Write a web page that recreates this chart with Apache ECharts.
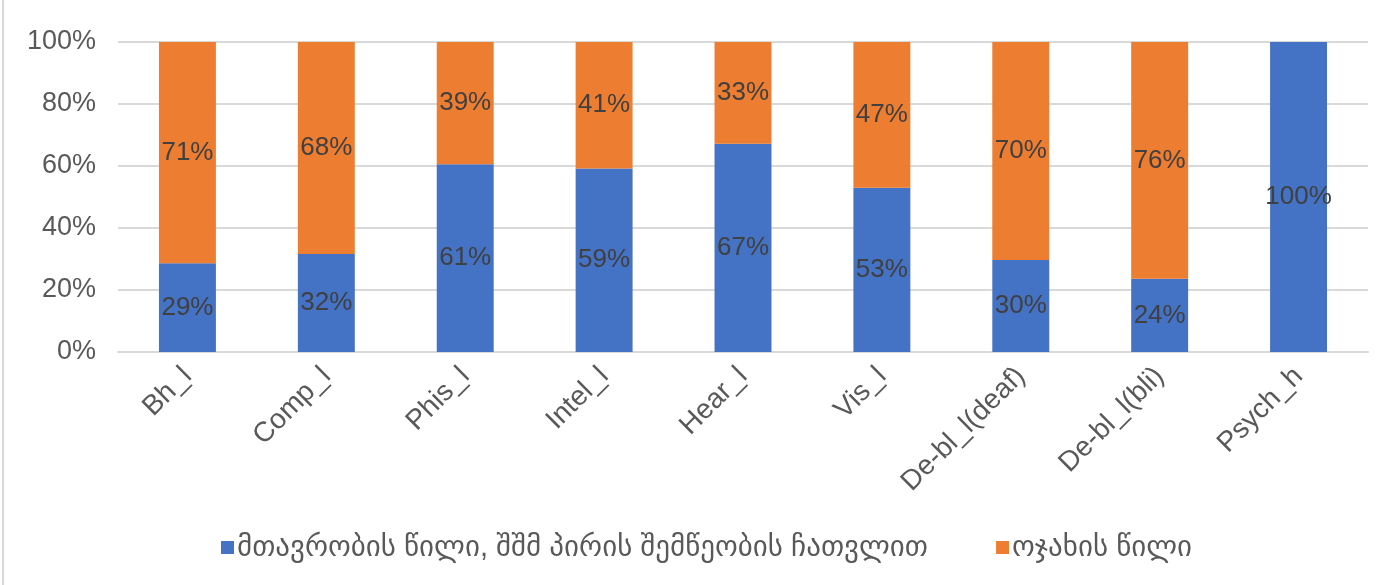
<!DOCTYPE html>
<html>
<head>
<meta charset="utf-8">
<script src="https://cdn.jsdelivr.net/npm/echarts@6/dist/echarts.min.js"></script>
<style>
  html, body { margin: 0; padding: 0; background: #fff; }
  #main { height: 585px; box-sizing: border-box; border-left: 2px solid #d9d9d9; margin-left: 2px; width: 1397px; }
</style>
</head>
<body>
<div id="main"></div>
<script>
// categories and values
const categories = ['Bh_l', 'Comp_l', 'Phis_l', 'Intel_l', 'Hear_l', 'Vis_l', 'De-bl_l(deaf)', 'De-bl_l(bli)', 'Psych_h'];
const govShare = [28.6, 31.6, 60.6, 59.2, 67.2, 53.0, 29.7, 23.6, 100];
const familyShare = [71.4, 68.4, 39.4, 40.8, 32.8, 47.0, 70.3, 76.4, 0];
const seriesNames = ['მთავრობის წილი, შშმ პირის შემწეობის ჩათვლით', 'ოჯახის წილი'];
const yTicks = [0, 20, 40, 60, 80, 100];

const font = 'Helvetica, "Liberation Sans", Arial, "DejaVu Sans", sans-serif';

const chart = echarts.init(document.getElementById('main'));

const labelCfg = {
  show: true,
  position: 'inside',
  color: '#404040',
  fontSize: 26,
  fontFamily: font,
  formatter: p => p.value > 0 ? Math.round(p.value) + '%' : ''
};

chart.setOption({
  animation: false,
  textStyle: { fontFamily: font },
  grid: { left: 114, right: 31, top: 42, bottom: 233, containLabel: false },
  legend: {
    bottom: 18,
    left: 212,
    itemWidth: 13,
    itemHeight: 13,
    itemGap: 68,
    icon: 'rect',
    textStyle: { fontSize: 29, color: '#595959', fontFamily: font, padding: [0, 0, 0, -2] },
    data: seriesNames
  },
  xAxis: {
    type: 'category',
    data: categories,
    axisLine: { lineStyle: { color: '#d9d9d9', width: 2 } },
    axisTick: { show: false },
    axisLabel: {
      rotate: 45,
      fontSize: 28,
      color: '#595959',
      margin: 20,
      interval: 0
    }
  },
  yAxis: {
    type: 'value',
    min: 0,
    max: 100,
    interval: 20,
    axisLine: { show: false },
    axisTick: { show: false },
    axisLabel: {
      fontSize: 27,
      color: '#595959',
      margin: 22,
      formatter: v => yTicks.includes(v) ? v + '%' : ''
    },
    splitLine: { lineStyle: { color: '#d9d9d9', width: 2 } }
  },
  series: [
    {
      name: seriesNames[0],
      type: 'bar',
      stack: 'total',
      barWidth: '41%',
      data: govShare,
      itemStyle: { color: '#4472c4' },
      label: labelCfg
    },
    {
      name: seriesNames[1],
      type: 'bar',
      stack: 'total',
      barWidth: '41%',
      data: familyShare,
      itemStyle: { color: '#ed7d31' },
      label: labelCfg
    }
  ]
});
</script>
</body>
</html>
